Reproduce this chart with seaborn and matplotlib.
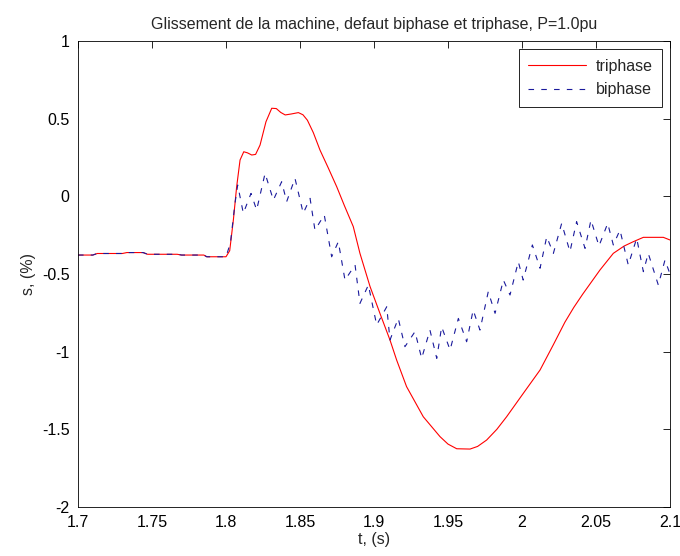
import numpy as np
import pandas as pd
import seaborn as sns
import matplotlib
matplotlib.use("Agg")
import matplotlib.pyplot as plt

# valeurs (t en s, glissement en %)
t_tri = [1.700, 1.710, 1.713, 1.730, 1.733, 1.744, 1.747, 1.767, 1.770, 1.785, 1.787, 1.800,
         1.8025, 1.805, 1.8072, 1.8095, 1.812, 1.8145, 1.8174, 1.820, 1.823, 1.827, 1.8309,
         1.834, 1.837, 1.840, 1.844, 1.8489, 1.852, 1.855, 1.859, 1.8635, 1.869, 1.8748,
         1.880, 1.886, 1.8905, 1.8973, 1.904, 1.9108, 1.9153, 1.922, 1.9333, 1.9446, 1.9500,
         1.9559, 1.9649, 1.9700, 1.9761, 1.9830, 1.9896, 2.0009, 2.0122, 2.0212, 2.0290,
         2.0350, 2.0410, 2.0470, 2.0527, 2.0617, 2.0690, 2.0752, 2.082, 2.0955, 2.100]
s_tri = [-0.378, -0.378, -0.368, -0.368, -0.362, -0.362, -0.373, -0.373, -0.378, -0.378, -0.389, -0.389,
         -0.35, -0.15, 0.062, 0.234, 0.287, 0.280, 0.266, 0.270, 0.330, 0.480, 0.567,
         0.565, 0.540, 0.524, 0.530, 0.539, 0.525, 0.490, 0.410, 0.298, 0.185, 0.062,
         -0.060, -0.195, -0.367, -0.580, -0.753, -0.925, -1.054, -1.225, -1.419, -1.547, -1.595,
         -1.625, -1.627, -1.610, -1.569, -1.500, -1.419, -1.268, -1.118, -0.955, -0.810,
         -0.715, -0.630, -0.550, -0.474, -0.367, -0.320, -0.292, -0.264, -0.264, -0.281]

t_bi = [1.700, 1.710, 1.713, 1.730, 1.733, 1.744, 1.747, 1.767, 1.770, 1.785, 1.787, 1.800,
        1.803, 1.806, 1.8079, 1.8117, 1.8169, 1.8207, 1.8264, 1.832, 1.8376, 1.841, 1.8466,
        1.8522, 1.8568, 1.8601, 1.8664, 1.8714, 1.8759, 1.8804, 1.8872, 1.8905, 1.8962,
        1.9018, 1.9086, 1.9108, 1.9164, 1.9209, 1.9277, 1.9322, 1.9378, 1.9424, 1.9457,
        1.9514, 1.957, 1.9626, 1.967, 1.9716, 1.9772, 1.9818, 1.9874, 1.9919, 1.9975,
        2.0008, 2.007, 2.0122, 2.0167, 2.0212, 2.0268, 2.0324, 2.0369, 2.0426, 2.0466,
        2.052, 2.0579, 2.0617, 2.0662, 2.0718, 2.0775, 2.082, 2.0853, 2.0921, 2.0966, 2.100]
s_bi = [-0.378, -0.378, -0.368, -0.368, -0.362, -0.362, -0.373, -0.373, -0.378, -0.378, -0.389, -0.389,
        -0.30, -0.05, 0.073, -0.109, 0.019, -0.088, 0.148, -0.024, 0.094, -0.034, 0.116,
        -0.109, -0.013, -0.217, -0.120, -0.389, -0.292, -0.539, -0.442, -0.689, -0.571,
        -0.828, -0.711, -0.925, -0.786, -0.968, -0.871, -1.043, -0.861, -1.043, -0.840,
        -0.989, -0.786, -0.936, -0.732, -0.861, -0.614, -0.753, -0.539, -0.635, -0.421,
        -0.539, -0.313, -0.463, -0.260, -0.367, -0.174, -0.356, -0.163, -0.335, -0.152,
        -0.320, -0.174, -0.313, -0.217, -0.442, -0.270, -0.485, -0.367, -0.571, -0.410, -0.500]

df_tri = pd.DataFrame({"t": t_tri, "s": s_tri})
df_bi = pd.DataFrame({"t": t_bi, "s": s_bi})

sns.set_style("white")
plt.rcParams["font.family"] = ["Liberation Sans", "DejaVu Sans"]

fig = plt.figure(figsize=(6.8, 5.56), dpi=100)
ax = fig.add_axes([78 / 680, 49 / 556, 592 / 680, 466 / 556])

sns.lineplot(data=df_tri, x="t", y="s", ax=ax, color="#ff0000", linewidth=0.8,
             estimator=None, sort=False, label="triphase")
sns.lineplot(data=df_bi, x="t", y="s", ax=ax, color="#1a1a9c", linewidth=0.8,
             estimator=None, sort=False, label="biphase")
ax.lines[-1].set_dashes((5.0, 6.5))

ax.set_xlim(1.7, 2.1)
ax.set_ylim(-2, 1)
ax.set_xticks([1.7, 1.75, 1.8, 1.85, 1.9, 1.95, 2.0, 2.05, 2.1])
ax.set_xticklabels(["1.7", "1.75", "1.8", "1.85", "1.9", "1.95", "2", "2.05", "2.1"])
ax.set_yticks([-2, -1.5, -1, -0.5, 0, 0.5, 1])
ax.set_yticklabels(["-2", "-1.5", "-1", "-0.5", "0", "0.5", "1"])
ax.tick_params(direction="in", length=5, width=0.6, top=True, right=True,
               labelsize=11.5, colors="black", pad=6)
for sp in ax.spines.values():
    sp.set_color("black")
    sp.set_linewidth(0.6)

ax.set_xlabel("t, (s)", fontsize=11.5, labelpad=1)
ax.set_ylabel("s, (%)", fontsize=11.5, labelpad=4)
ax.set_title("Glissement de la machine, defaut biphase et triphase, P=1.0pu", fontsize=11.5, pad=9)

leg = ax.legend(loc="upper right", fontsize=11.5, fancybox=False, framealpha=1,
                edgecolor="black", handlelength=3.6, borderaxespad=0.5,
                borderpad=0.6, labelspacing=0.55, handletextpad=0.6)
leg.get_frame().set_linewidth(0.6)

fig.savefig("out.png", dpi=100)
